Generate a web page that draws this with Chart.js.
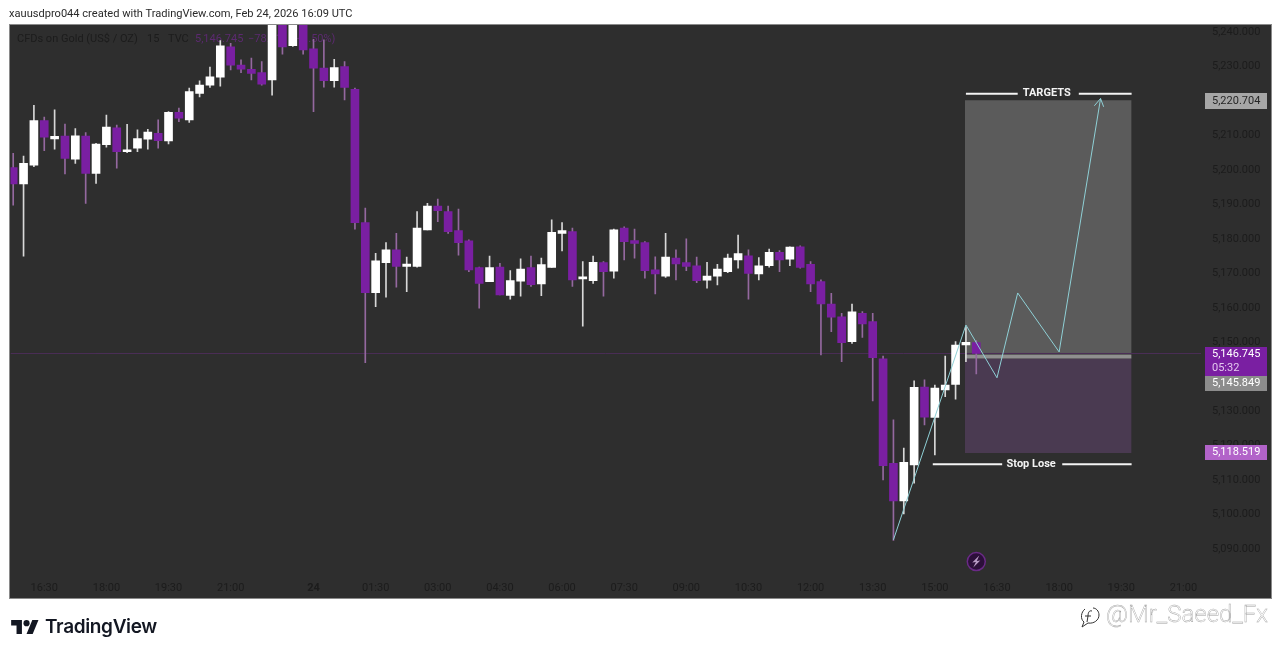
<!DOCTYPE html>
<html>
<head>
<meta charset="utf-8">
<title>XAUUSD 15m</title>
<script src="https://cdn.jsdelivr.net/npm/chart.js@4"></script>
<style>
    html, body { margin: 0; padding: 0; background: #fff; width: 1280px; height: 655px; overflow: hidden; }
    #wrap { position: relative; width: 1280px; height: 655px; }
    canvas { position: absolute; left: 0; top: 0; }
    .byline { position: absolute; left: 9px; top: 7px; font: 11.08px Roboto, sans-serif; color: #2a2a2a; white-space: nowrap; }
    .logo { position: absolute; left: 11px; top: 617px; }
    .brand { position: absolute; left: 45px; top: 615px; font: 600 19px Inter, sans-serif; letter-spacing: -0.35px; color: #131722; }
    .mark { position: absolute; left: 1106px; top: 600px; font: 300 24px Roboto, sans-serif; color: #fff; -webkit-text-stroke: 0.4px #a0a0a0; white-space: nowrap; }
    .glyph { position: absolute; left: 1079px; top: 605px; }
</style>
</head>
<body>
<div id="wrap">
    <canvas id="chart" width="1280" height="655"></canvas>
    <div class="byline">xauusdpro044 created with TradingView.com, Feb 24, 2026 16:09 UTC</div>
    <svg class="logo" width="28" height="20" viewBox="0 0 36 26"><path fill="#131722" d="M14 22H7V11H0V4h14v18zM28 22h-8l7.5-18h8L28 22z"/><circle fill="#131722" cx="20" cy="8" r="4"/></svg>
    <div class="brand">TradingView</div>
    <svg class="glyph" width="22" height="24" viewBox="0 0 22 24"><path fill="none" stroke="#333" stroke-width="1" d="M6 4 C2 7 1 14 5 17 L3 22 L9 18 C15 19 20 15 20 10 C20 6 17 3 14 3 M13 6 C10 5 9 8 9 11 L8 17 M6 11 H12"/></svg>
    <div class="mark">@Mr_Saeed_Fx</div>
</div>
<script>
// 15m candles
var opens = [5200.7,5195.9,5201.4,5214.3,5209.0,5209.8,5203.1,5209.8,5199.0,5207.3,5212.2,5205.3,5206.3,5208.9,5210.6,5208.4,5216.7,5214.5,5222.2,5224.6,
    5226.9,5235.7,5230.4,5229.2,5228.2,5226.1,5247.0,5236.0,5248.0,5235.1,5229.5,5225.9,5230.0,5223.4,5184.7,5164.4,5173.1,5176.8,5172.0,5172.0,
    5182.6,5189.5,5187.9,5182.4,5179.4,5171.7,5167.6,5171.8,5163.6,5167.7,5171.7,5166.9,5171.7,5181.6,5182.1,5168.4,5167.9,5173.1,5170.6,5183.1,
    5179.5,5178.9,5171.0,5169.2,5174.4,5173.1,5172.2,5168.0,5169.2,5170.5,5173.9,5175.1,5169.8,5172.2,5176.1,5174.1,5177.7,5172.6,5167.6,5161.1,
    5157.4,5150.2,5158.4,5156.0,5145.2,5114.9,5104.0,5114.4,5137.0,5128.2,5136.2,5137.8,5149.2,5149.9];
var highs = [5204.8,5204.0,5218.7,5215.3,5217.4,5213.3,5212.0,5210.8,5207.7,5215.9,5213.0,5213.2,5211.6,5211.8,5214.5,5216.9,5217.9,5223.7,5225.8,5229.8,
    5237.5,5236.7,5231.9,5232.4,5231.4,5249.0,5249.0,5250.0,5250.0,5237.9,5237.7,5232.1,5231.4,5223.7,5188.9,5175.8,5178.9,5181.6,5174.7,5187.9,
    5190.3,5191.5,5189.5,5188.6,5179.7,5171.8,5175.0,5172.9,5170.8,5174.2,5175.0,5174.4,5185.5,5184.7,5183.1,5173.4,5175.0,5173.4,5182.8,5183.5,
    5182.8,5179.2,5174.8,5181.6,5176.8,5180.0,5174.7,5173.2,5172.6,5175.6,5181.1,5176.8,5174.6,5177.0,5176.6,5177.7,5178.0,5173.4,5168.1,5164.2,
    5158.4,5161.1,5158.9,5158.4,5146.0,5127.5,5119.3,5138.8,5139.1,5137.6,5146.0,5150.2,5154.5,5150.5];
var lows = [5189.8,5175.0,5200.9,5205.6,5206.0,5198.8,5201.9,5190.3,5196.1,5206.6,5200.5,5205.0,5205.3,5206.0,5206.3,5207.5,5214.0,5213.8,5221.2,5223.9,
    5224.3,5229.0,5228.2,5226.1,5224.6,5221.7,5233.6,5235.8,5233.6,5216.9,5224.0,5224.0,5220.3,5182.8,5144.1,5160.3,5163.1,5166.0,5164.7,5171.8,
    5182.6,5185.0,5181.6,5175.3,5170.5,5159.9,5167.6,5163.7,5162.5,5163.4,5166.2,5163.5,5171.7,5176.5,5166.2,5154.7,5167.1,5163.4,5168.6,5173.9,
    5174.4,5168.6,5164.0,5168.8,5168.1,5170.8,5167.3,5165.7,5166.6,5170.2,5171.5,5162.5,5168.1,5171.8,5170.5,5172.2,5171.5,5164.7,5146.3,5153.1,
    5144.4,5149.7,5151.4,5133.0,5110.1,5092.5,5100.2,5109.1,5126.0,5117.3,5134.2,5133.5,5144.4,5140.8];
var closes = [5195.9,5201.9,5214.3,5209.5,5209.7,5203.3,5209.9,5199.0,5207.5,5212.4,5205.3,5205.8,5209.1,5211.0,5208.5,5216.7,5215.0,5222.7,5224.6,5227.0,
    5236.0,5230.4,5229.2,5228.0,5224.9,5246.0,5235.7,5248.0,5234.8,5229.5,5225.9,5229.7,5223.9,5184.7,5164.4,5173.6,5176.8,5172.0,5172.7,5183.1,
    5189.5,5188.2,5182.1,5178.9,5171.0,5167.1,5171.7,5163.7,5167.9,5171.2,5166.7,5172.5,5181.9,5182.4,5168.1,5169.0,5173.2,5170.5,5182.6,5179.2,
    5178.7,5170.8,5169.8,5174.7,5172.7,5172.0,5167.9,5169.2,5171.2,5174.4,5175.7,5170.0,5172.2,5176.1,5173.9,5177.6,5171.7,5166.9,5161.1,5157.3,
    5149.9,5158.8,5155.3,5145.5,5114.2,5104.0,5115.2,5136.9,5128.3,5136.7,5137.6,5149.2,5150.0,5146.745];

var xTickBars = [3, 9, 15, 21, 29, 35, 41, 47, 53, 59, 65, 71, 77, 83, 89, 95, 101, 107, 113];
var xTickLabels = ['16:30','18:00','19:30','21:00','24','01:30','03:00','04:30','06:00','07:30','09:00','10:30','12:00','13:30','15:00','16:30','18:00','19:30','21:00'];
var yTickValues = [5090,5100,5110,5120,5130,5140,5150,5160,5170,5180,5190,5200,5210,5220,5230,5240];

// trade plan levels
var targetPrice = 5220.704;
var lastPrice = 5146.745;
var entryPrice = 5145.849;
var stopPrice = 5118.519;
var zoneTop = 5220.2;
var zoneMidHigh = 5146.3;
var zoneMidLow = 5145.3;
var zoneBottom = 5117.9;
var zoneBars = [91.9, 108];
var targetLinePrice = 5222.1;
var targetLineLeft = [92, 97];
var targetLineRight = [102.9, 108];
var stopLinePrice = 5114.6;
var stopLineLeft = [88.8, 95.5];
var stopLineRight = [101.3, 108];
var pathBars = [85, 92, 95, 97, 101, 105];
var pathPrices = [5092.7, 5155, 5139.7, 5164.3, 5147.2, 5220.7];
var arrowBars = [104.4, 105, 105.3];
var arrowPrices = [5218.6, 5220.7, 5218.3];
var flashBar = 93;
var flashPrice = 5086.4;

var FONT = 'Roboto, sans-serif';
var BULL = '#ffffff';
var BEAR = '#7a1fa2';
var BULL_WICK = '#d8d8d8';
var BEAR_WICK = '#94689f';

function fillBand(bars, hi, lo, color, order) {
    return {
        type: 'line', order: order, pointRadius: 0, borderWidth: 0,
        data: [{ x: bars[0], y: hi }, { x: bars[1], y: hi }],
        fill: { value: lo }, backgroundColor: color,
    };
}

function segment(bars, price) {
    return {
        type: 'line', order: 2, pointRadius: 0, borderWidth: 2, borderColor: '#f4f4f4',
        data: [{ x: bars[0], y: price }, { x: bars[1], y: price }],
    };
}

function zip(xs, ys) {
    return xs.map(function (x, i) { return { x: x, y: ys[i] }; });
}

var wickData = opens.map(function (o, i) { return { x: i, y: [lows[i], highs[i]] }; });
var bodyData = opens.map(function (o, i) { return { x: i, y: [o, closes[i]] }; });
var isUp = opens.map(function (o, i) { return closes[i] >= o; });

var panelPlugin = {
    id: 'panel',
    beforeDraw: function (chart) {
        var c = chart.ctx;
        c.save();
        c.fillStyle = '#2e2e2e';
        c.fillRect(10, 25, 1261, 573);
        c.strokeStyle = '#8a8a8a';
        c.lineWidth = 1;
        c.strokeRect(9.5, 24.5, 1262, 574);
        c.restore();
    },
    beforeDatasetsDraw: function (chart) {
        // symbol line sits under the candles
        var c = chart.ctx;
        c.save();
        c.textBaseline = 'middle';
        c.font = '11px ' + FONT;
        c.fillStyle = '#1c1c1c';
        c.fillText('CFDs on Gold (US$ / OZ)', 17, 39);
        c.fillText('15', 147, 39);
        c.fillText('TVC', 168, 39);
        c.fillStyle = '#5c2a70';
        c.fillText('5,146.745', 195, 39);
        c.fillText('\u221278.31', 248, 39);
        c.fillText('(\u22121.50%)', 292, 39);
        c.restore();
    },
    afterDatasetsDraw: function (chart) {
        var c = chart.ctx;
        var sx = chart.scales.x, sy = chart.scales.y;
        c.save();
        c.textBaseline = 'middle';
        c.textAlign = 'center';
        c.fillStyle = '#f4f4f4';
        c.font = 'bold 11px ' + FONT;
        c.fillText('TARGETS', sx.getPixelForValue(99.8), sy.getPixelForValue(targetLinePrice));
        c.fillText('Stop Lose', sx.getPixelForValue(98.3), sy.getPixelForValue(stopLinePrice));

        // bolt in the flash marker
        var fx = sx.getPixelForValue(flashBar), fy = sy.getPixelForValue(flashPrice);
        c.fillStyle = '#b79ac4';
        c.beginPath();
        c.moveTo(fx + 3, fy - 6);
        c.lineTo(fx - 4, fy + 1);
        c.lineTo(fx - 0.4, fy + 0.6);
        c.lineTo(fx - 3, fy + 6);
        c.lineTo(fx + 4, fy - 1);
        c.lineTo(fx + 0.5, fy - 0.6);
        c.closePath();
        c.fill();

        // price tags on the axis
        function tag(top, h, bg) {
            c.fillStyle = bg;
            c.fillRect(1205, top, 62, h);
        }
        function label(text, y, color) {
            c.fillStyle = color;
            c.fillText(text, 1212, y);
        }
        c.textAlign = 'left';
        c.font = '11px ' + FONT;
        var yTarget = Math.round(sy.getPixelForValue(targetPrice)) + 2;
        tag(yTarget - 8, 16, '#a6a6a6');
        label('5,220.704', yTarget + 0.5, '#262626');
        var yLast = Math.round(sy.getPixelForValue(lastPrice)) + 1;
        tag(yLast - 7, 29, '#7a1fa2');
        label('5,146.745', yLast + 0.5, '#ffffff');
        label('05:32', yLast + 14.5, '#e3c7ee');
        tag(yLast + 22, 15, '#8c8c8c');
        label('5,145.849', yLast + 29.5, '#ffffff');
        var yStop = Math.round(sy.getPixelForValue(stopPrice)) + 1;
        tag(yStop - 7, 15, '#b263c9');
        label('5,118.519', yStop + 0.5, '#ffffff');
        c.restore();
    },
};

new Chart(document.getElementById('chart').getContext('2d'), {
    type: 'bar',
    data: {
        datasets: [
            fillBand(zoneBars, zoneTop, zoneMidHigh, '#5b5b5b', 10),
            fillBand(zoneBars, zoneMidLow, zoneBottom, '#4a3a51', 10),
            fillBand(zoneBars, zoneMidHigh, zoneMidLow, '#8f8f8f', 9),
            {
                type: 'line', order: 8, pointRadius: 0, borderWidth: 1, borderColor: '#4b2e57',
                data: [{ x: -0.26, y: lastPrice }, { x: 114.7, y: lastPrice }],
            },
            {
                type: 'bar', order: 5, grouped: false, barThickness: 1,
                data: wickData,
                backgroundColor: isUp.map(function (u) { return u ? BULL_WICK : BEAR_WICK; }),
            },
            {
                type: 'bar', order: 4, grouped: false, barThickness: 8,
                data: bodyData,
                backgroundColor: isUp.map(function (u) { return u ? BULL : BEAR; }),
            },
            {
                type: 'line', order: 3, pointRadius: 0, borderWidth: 1, borderColor: '#8fd0d6', tension: 0,
                data: zip(pathBars, pathPrices),
            },
            {
                type: 'line', order: 3, pointRadius: 0, borderWidth: 1, borderColor: '#8fd0d6', tension: 0,
                data: zip(arrowBars, arrowPrices),
            },
            segment(targetLineLeft, targetLinePrice),
            segment(targetLineRight, targetLinePrice),
            segment(stopLineLeft, stopLinePrice),
            segment(stopLineRight, stopLinePrice),
            {
                type: 'line', order: 1, showLine: false, pointRadius: 9, pointBorderWidth: 1.5,
                pointBackgroundColor: '#2c0f3a', pointBorderColor: '#6a2a86',
                data: [{ x: flashBar, y: flashPrice }],
            },
        ],
    },
    options: {
        responsive: false,
        animation: false,
        layout: { padding: { left: 10, top: 25, right: 9, bottom: 57 } },
        plugins: { legend: { display: false }, tooltip: { enabled: false }, title: { display: false } },
        scales: {
            x: {
                type: 'linear',
                offset: false,
                min: -0.26,
                max: 114.7,
                grid: { display: false, drawTicks: false },
                border: { display: false },
                afterBuildTicks: function (scale) {
                    scale.ticks = xTickBars.map(function (v) { return { value: v }; });
                },
                afterFit: function (scale) { scale.height = 22; },
                ticks: {
                    autoSkip: false,
                    maxRotation: 0,
                    padding: 6,
                    color: '#1c1c1c',
                    font: function (ctx) {
                        return { family: FONT, size: 11, weight: ctx.tick && ctx.tick.value === 29 ? 'bold' : 'normal' };
                    },
                    callback: function (v) { return xTickLabels[xTickBars.indexOf(v)]; },
                },
            },
            y: {
                type: 'linear',
                position: 'right',
                min: 5082.2,
                max: 5242.03,
                grid: { display: false, drawTicks: false },
                border: { display: false },
                afterBuildTicks: function (scale) {
                    scale.ticks = yTickValues.map(function (v) { return { value: v }; });
                },
                afterFit: function (scale) { scale.width = 70; },
                ticks: {
                    padding: 11,
                    color: '#1c1c1c',
                    font: { family: FONT, size: 11 },
                    callback: function (v) {
                        return v.toLocaleString('en-US', { minimumFractionDigits: 3, maximumFractionDigits: 3 });
                    },
                },
            },
        },
    },
    plugins: [panelPlugin],
});
</script>
</body>
</html>
